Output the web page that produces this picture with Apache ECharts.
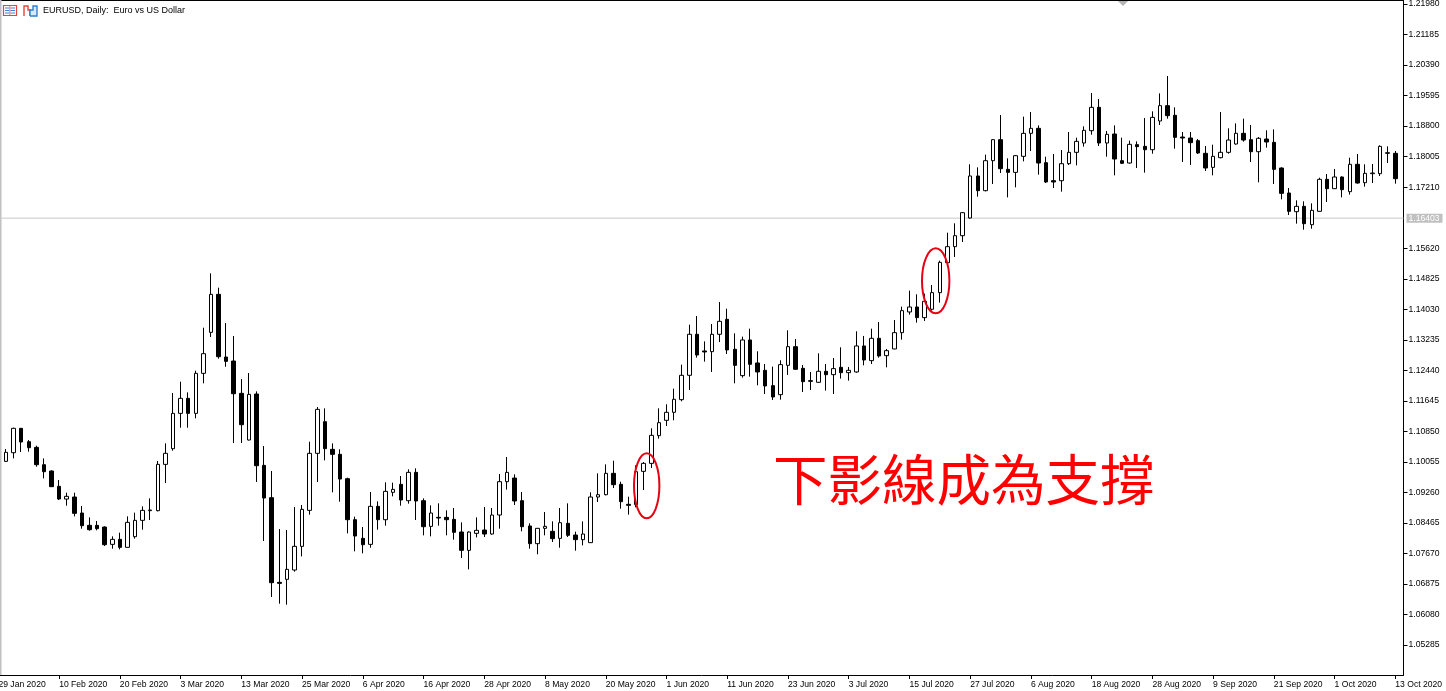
<!DOCTYPE html>
<html><head><meta charset="utf-8">
<style>html,body{margin:0;padding:0;background:#fff;overflow:hidden}#c{width:1446px;height:691px}</style>
<script src="https://cdn.jsdelivr.net/npm/echarts@6/dist/echarts.min.js"></script>
</head><body><div id="c"></div>
<script>
const tickDates = ['29 Jan 2020','10 Feb 2020','20 Feb 2020','3 Mar 2020','13 Mar 2020','25 Mar 2020','6 Apr 2020','16 Apr 2020','28 Apr 2020','8 May 2020','20 May 2020','1 Jun 2020','11 Jun 2020','23 Jun 2020','3 Jul 2020','15 Jul 2020','27 Jul 2020','6 Aug 2020','18 Aug 2020','28 Aug 2020','9 Sep 2020','21 Sep 2020','1 Oct 2020','13 Oct 2020'];
const priceTicks = [1.21980,1.21185,1.20390,1.19595,1.18800,1.18005,1.17210,1.15620,1.14825,1.14030,1.13235,1.12440,1.11645,1.10850,1.10055,1.09260,1.08465,1.07670,1.06875,1.06080,1.05285];
const currentPrice = 1.16403;
const title = 'EURUSD, Daily:  Euro vs US Dollar';
const note = '下影線成為支撐';

const opens = [
1.10070,1.10296,1.10930,1.10582,1.10435,1.09983,1.09819,1.09419,1.09089,1.09142,
1.08725,1.08404,1.08404,1.08360,1.07909,1.08039,1.07831,1.08109,1.08534,1.08786,
1.08786,1.09992,1.10400,1.11320,1.11711,1.11320,1.12362,1.13429,1.14419,1.12787,
1.12683,1.11841,1.10626,1.11824,1.09966,1.09124,1.06919,1.06998,1.07241,1.07857,
1.08794,1.10279,1.11103,1.10383,1.10253,1.09619,1.08551,1.08065,1.07909,1.08899,
1.08551,1.09263,1.09472,1.09046,1.09784,1.09046,1.08378,1.08612,1.08612,1.08560,
1.08230,1.07753,1.08196,1.08282,1.08178,1.08673,1.09541,1.09636,1.09046,1.08387,
1.07927,1.08326,1.08248,1.08065,1.08456,1.08152,1.08031,1.07953,1.09142,1.09202,
1.09758,1.09472,1.08951,1.08942,1.09810,1.10018,1.10740,1.11139,1.11347,1.11677,
1.12311,1.13379,1.12945,1.12927,1.13379,1.13769,1.12988,1.12302,1.13231,1.12632,
1.12441,1.12042,1.11807,1.12571,1.13057,1.12493,1.12172,1.12129,1.12415,1.12328,
1.12519,1.12380,1.12398,1.13075,1.12693,1.13274,1.12823,1.12997,1.13422,1.13960,
1.14090,1.13813,1.14030,1.14464,1.15244,1.15661,1.15947,1.16407,1.17501,1.17119,
1.17900,1.18447,1.17674,1.17596,1.18013,1.18612,1.18742,1.17848,1.17379,1.17379,
1.17822,1.18117,1.18360,1.18681,1.19289,1.18360,1.18594,1.17900,1.17839,1.18317,
1.18273,1.18186,1.18933,1.19332,1.19081,1.18516,1.18490,1.18421,1.18091,1.17726,
1.17978,1.18117,1.18334,1.18612,1.18447,1.18134,1.18464,1.18377,1.17709,1.17058,
1.16572,1.16711,1.16233,1.16581,1.17414,1.17171,1.17475,1.17093,1.17805,1.17327,
1.17562,1.17562,1.18091,1.18091];
const closes = [
1.10305,1.10930,1.10574,1.10426,1.09983,1.09801,1.09411,1.09089,1.09159,1.08716,
1.08395,1.08291,1.08317,1.07900,1.08039,1.07831,1.08482,1.08534,1.08794,1.08803,
1.09992,1.10279,1.11320,1.11711,1.11320,1.12362,1.12874,1.14419,1.12796,1.12674,
1.11832,1.11025,1.11815,1.09957,1.09115,1.06911,1.06893,1.07258,1.07857,1.08820,
1.10279,1.11424,1.10400,1.10253,1.09610,1.08551,1.08126,1.07900,1.08899,1.08551,
1.09289,1.09341,1.09064,1.09784,1.09038,1.08369,1.08725,1.08595,1.08551,1.08222,
1.07753,1.08230,1.08274,1.08178,1.08673,1.09541,1.09784,1.09038,1.08369,1.07927,
1.08326,1.08378,1.08057,1.08473,1.08144,1.08031,1.08178,1.09142,1.09202,1.09758,
1.09463,1.09020,1.08925,1.09801,1.10018,1.10748,1.11078,1.11347,1.11686,1.12311,
1.13379,1.12840,1.12919,1.13379,1.13717,1.12971,1.12571,1.13231,1.12597,1.12398,
1.12033,1.11747,1.12589,1.13057,1.12467,1.12146,1.12155,1.12415,1.12328,1.12485,
1.12380,1.12441,1.13075,1.12710,1.13274,1.12814,1.12953,1.13422,1.13995,1.14090,
1.13813,1.14238,1.14464,1.15253,1.15661,1.15947,1.16546,1.17501,1.17119,1.17900,
1.18447,1.17692,1.17596,1.18030,1.18612,1.18742,1.17839,1.17345,1.17345,1.17822,
1.18117,1.18403,1.18690,1.19289,1.18360,1.18586,1.17943,1.17831,1.18325,1.18265,
1.18186,1.19028,1.19332,1.19072,1.18508,1.18490,1.18369,1.18100,1.17709,1.18013,
1.18117,1.18438,1.18612,1.18438,1.18134,1.18482,1.18386,1.17674,1.17049,1.16581,
1.16711,1.16260,1.16607,1.17414,1.17171,1.17475,1.17145,1.17805,1.17318,1.17570,
1.17579,1.18273,1.18108,1.17431];
const lows = [
1.10053,1.10148,1.10313,1.10322,1.09931,1.09628,1.09402,1.09063,1.08916,1.08638,
1.08317,1.08265,1.08274,1.07866,1.07796,1.07779,1.07825,1.08057,1.08291,1.08543,
1.08768,1.09506,1.10348,1.10947,1.10947,1.11190,1.12101,1.13308,1.12744,1.12535,
1.10548,1.10548,1.10617,1.09532,1.07996,1.06538,1.06364,1.06338,1.07197,1.07596,
1.08681,1.09532,1.10096,1.09263,1.09020,1.08196,1.07727,1.07675,1.07822,1.08291,
1.08395,1.09159,1.08916,1.08968,1.08543,1.08144,1.08117,1.08395,1.08144,1.08031,
1.07553,1.07258,1.08091,1.08100,1.08161,1.08317,1.09333,1.08933,1.08248,1.07796,
1.07649,1.08144,1.07970,1.07822,1.08100,1.07744,1.07883,1.07944,1.09012,1.09185,
1.09376,1.08838,1.08682,1.08873,1.09324,1.09897,1.10662,1.10992,1.11139,1.11634,
1.11929,1.12771,1.12667,1.12398,1.13179,1.12866,1.12103,1.12250,1.12276,1.12051,
1.11825,1.11669,1.11677,1.12320,1.12450,1.11877,1.11929,1.12120,1.11912,1.11825,
1.12224,1.12172,1.12380,1.12571,1.12606,1.12771,1.12519,1.12990,1.13240,1.13891,
1.13682,1.13726,1.13995,1.14203,1.15240,1.15392,1.15782,1.16390,1.16963,1.17101,
1.17292,1.17579,1.16945,1.17206,1.17883,1.18152,1.17535,1.17318,1.17188,1.17093,
1.17787,1.17779,1.18265,1.18577,1.18282,1.18004,1.17518,1.17813,1.17822,1.17709,
1.17588,1.18082,1.18829,1.18994,1.18213,1.17865,1.17787,1.18074,1.17631,1.17518,
1.17961,1.18082,1.18317,1.18395,1.17865,1.17336,1.18239,1.17292,1.16893,1.16485,
1.16260,1.16103,1.16129,1.16575,1.16824,1.17162,1.16945,1.17015,1.17301,1.17223,
1.17318,1.17501,1.17839,1.17301];
const highs = [
1.10391,1.10947,1.10930,1.10626,1.10478,1.10148,1.09836,1.09584,1.09254,1.09254,
1.08907,1.08612,1.08517,1.08378,1.08117,1.08213,1.08638,1.08734,1.08898,1.09107,
1.10079,1.10539,1.11850,1.12145,1.11867,1.12431,1.13551,1.14966,1.14593,1.13672,
1.13334,1.12214,1.12370,1.11893,1.10470,1.09819,1.08308,1.08282,1.08881,1.08933,
1.10582,1.11485,1.11450,1.10539,1.10383,1.09645,1.08630,1.08361,1.09272,1.09029,
1.09524,1.09515,1.09689,1.09862,1.09888,1.09107,1.08925,1.08977,1.08795,1.08855,
1.08482,1.08248,1.08612,1.08881,1.08855,1.09741,1.10183,1.09732,1.09272,1.08456,
1.08334,1.08751,1.08508,1.08855,1.08977,1.08239,1.08508,1.09263,1.09758,1.09992,
1.10088,1.09541,1.09150,1.09966,1.10053,1.10930,1.11452,1.11556,1.11964,1.12589,
1.13630,1.13856,1.13196,1.13648,1.14221,1.14047,1.13405,1.13318,1.13526,1.12936,
1.12606,1.12537,1.12702,1.13483,1.13257,1.12580,1.12398,1.12884,1.12606,1.12762,
1.13040,1.12528,1.13457,1.13335,1.13526,1.13700,1.12997,1.13752,1.14099,1.14516,
1.14420,1.14438,1.14663,1.15297,1.16025,1.16268,1.16563,1.17805,1.17726,1.18056,
1.18464,1.19089,1.17961,1.18048,1.19046,1.19167,1.18820,1.18004,1.18074,1.18178,
1.18647,1.18499,1.18794,1.19662,1.19506,1.18673,1.18820,1.18499,1.18421,1.18403,
1.19011,1.19185,1.19653,1.20105,1.19289,1.18647,1.18647,1.18464,1.18282,1.18317,
1.19167,1.18742,1.18872,1.18994,1.18829,1.18516,1.18690,1.18716,1.17726,1.17188,
1.16867,1.16841,1.16789,1.17457,1.17553,1.17683,1.17492,1.17978,1.18074,1.17805,
1.17813,1.18299,1.18273,1.18152];

const step = 8;
const categories = ['-'];
const candles = [['-','-','-','-']];
opens.forEach((o,i)=>{ categories.push(String(i+1)); candles.push([o,closes[i],lows[i],highs[i]]); });
tickDates.forEach((d,i)=>{ categories[i*step]=d; });

const yMin = 1.04507, yMax = 1.22058;
const labelFont = {fontFamily:'Liberation Sans',fontSize:8.6,color:'#000'};
const chart = echarts.init(document.getElementById('c'),null,{renderer:'canvas'});
chart.setOption({
  animation:false,
  backgroundColor:'#fff',
  grid:[
    {left:0,width:1403.5,top:1,height:674,outerBoundsMode:'none'},
    {left:-5.4,width:1404.52,top:1,height:674,outerBoundsMode:'none'}
  ],
  xAxis:[
    {gridIndex:0,type:'value',min:0,max:1,position:'bottom',
     axisLine:{show:true,lineStyle:{color:'#000',width:1}},axisTick:{show:false},axisLabel:{show:false},splitLine:{show:false}},
    {gridIndex:1,type:'category',data:categories,boundaryGap:true,position:'bottom',
     axisLine:{show:false},
     axisTick:{show:true,alignWithLabel:true,interval:step-1,length:4,lineStyle:{color:'#000',width:1}},
     axisLabel:{show:true,interval:step-1,align:'left',margin:5,hideOverlap:false,...labelFont},
     splitLine:{show:false}}
  ],
  yAxis:[
    {gridIndex:0,type:'value',min:yMin,max:yMax,position:'right',
     axisLine:{show:true,onZero:false,lineStyle:{color:'#000',width:1}},
     axisTick:{show:true,length:4,customValues:priceTicks,lineStyle:{color:'#000',width:1}},
     axisLabel:{show:true,margin:5,customValues:priceTicks,formatter:v=>v.toFixed(5),padding:[2,0,0,0],...labelFont},
     splitLine:{show:false}},
    {gridIndex:1,type:'value',min:yMin,max:yMax,show:false,axisLine:{show:false},axisTick:{show:false},axisLabel:{show:false},splitLine:{show:false}}
  ],
  series:[
    {type:'line',xAxisIndex:0,yAxisIndex:0,data:[[0,currentPrice],[1,currentPrice]],silent:true,symbol:'none',
     lineStyle:{color:'#c8c8c8',width:1},z:1,
     endLabel:{show:true,formatter:()=>currentPrice.toFixed(5),distance:3,color:'#fff',backgroundColor:'#c0c0c0',
       fontFamily:'Liberation Sans',fontSize:8.6,padding:[1,2,1,2],width:32,height:7,lineHeight:7}},
    {type:'candlestick',xAxisIndex:1,yAxisIndex:1,data:candles,barWidth:4,z:3,
     itemStyle:{color:'#fff',color0:'#000',borderColor:'#000',borderColor0:'#000',borderWidth:1}}
  ],
  graphic:[
    {type:'rect',shape:{x:0,y:0,width:1404,height:1},style:{fill:'#000'},silent:true},
    {type:'rect',shape:{x:0,y:0,width:1.5,height:675},style:{fill:'#c0c0c0'},silent:true},
    {type:'polygon',shape:{points:[[1118,1],[1128,1],[1123,6]]},style:{fill:'#b4b4b4'},silent:true},
    {type:'rect',shape:{x:3.5,y:5.5,width:13,height:10},style:{fill:'#fff',stroke:'#e8423c',lineWidth:1.2},silent:true},
    {type:'rect',shape:{x:5,y:7.5,width:4,height:1},style:{fill:'#3f7fd0'},silent:true},
    {type:'rect',shape:{x:5,y:10,width:4,height:1},style:{fill:'#3f7fd0'},silent:true},
    {type:'rect',shape:{x:5,y:12.5,width:4,height:1},style:{fill:'#3f7fd0'},silent:true},
    {type:'rect',shape:{x:10.5,y:7.5,width:4.5,height:1},style:{fill:'#3f7fd0'},silent:true},
    {type:'rect',shape:{x:10.5,y:10,width:4.5,height:1},style:{fill:'#3f7fd0'},silent:true},
    {type:'rect',shape:{x:10.5,y:12.5,width:4.5,height:1},style:{fill:'#3f7fd0'},silent:true},
    {type:'rect',shape:{x:9.5,y:6,width:0.8,height:9},style:{fill:'#e8423c'},silent:true},
    {type:'polyline',shape:{points:[[24,16],[24,6],[28,6],[28,10],[30,10],[30,16]]},style:{fill:'none',stroke:'#e8423c',lineWidth:1.4},silent:true},
    {type:'polyline',shape:{points:[[30,16],[30,10],[33,10],[33,6],[37,6],[37,16],[30,16]]},style:{fill:'#dbe8f8',stroke:'#2f7fd0',lineWidth:1.4},silent:true},
    {type:'text',x:43,y:11,style:{text:title,fontFamily:'Liberation Sans',fontSize:9,fill:'#000',textVerticalAlign:'middle'},silent:true},
    {type:'ellipse',shape:{cx:646.7,cy:485.8,rx:12.7,ry:32.5},style:{fill:'none',stroke:'#e60012',lineWidth:2},z:10,silent:true},
    {type:'ellipse',shape:{cx:935.7,cy:280.8,rx:13.7,ry:32.5},style:{fill:'none',stroke:'#e60012',lineWidth:2},z:10,silent:true},
    {type:'text',x:773,y:479,style:{text:note,fontFamily:'Noto Sans CJK TC',fontSize:54.5,fill:'#f00',textVerticalAlign:'middle'},z:10,silent:true}
  ]
});
</script></body></html>
